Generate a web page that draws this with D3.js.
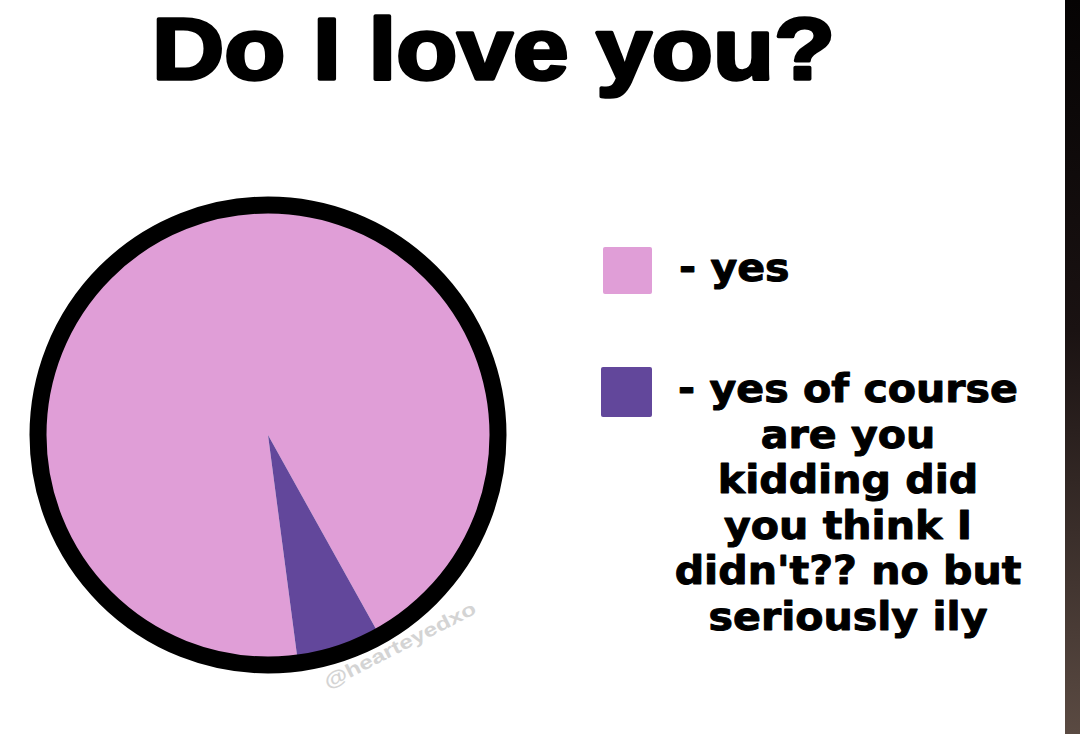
<!DOCTYPE html>
<html>
<head>
<meta charset="utf-8">
<script src="https://cdn.jsdelivr.net/npm/d3@7"></script>
<style>
  html, body { margin: 0; padding: 0; background: #ffffff; }
  svg { display: block; }
</style>
</head>
<body>
<script>
// ---- data ----
const title = "Do I love you?";
const categories = ["yes", "yes of course are you kidding did you think I didn't?? no but seriously ily"];
const values = [94, 6];
const colors = ["#e09ed7", "#62479b"];
const legendLines = [
  ["- yes"],
  ["- yes of course", "are you", "kidding did", "you think I", "didn't?? no but", "seriously ily"]
];
const watermark = "@hearteyedxo";

const W = 1080, H = 734;
const svg = d3.select("body").append("svg").attr("width", W).attr("height", H);

// right dark strip
const defs = svg.append("defs");
const grad = defs.append("linearGradient").attr("id", "strip").attr("x1", 0).attr("y1", 0).attr("x2", 0).attr("y2", 1);
grad.append("stop").attr("offset", "0%").attr("stop-color", "#050303");
grad.append("stop").attr("offset", "45%").attr("stop-color", "#1a1212");
grad.append("stop").attr("offset", "100%").attr("stop-color", "#5a4a42");
svg.append("rect").attr("x", 1065).attr("y", 0).attr("width", 15).attr("height", H).attr("fill", "url(#strip)");

const font = "'Liberation Sans', Arial, Helvetica, sans-serif";
const lfont = "'DejaVu Sans', 'Liberation Sans', Arial, sans-serif";

// title
svg.append("text")
  .attr("x", 152).attr("y", 79)
  .attr("font-family", font).attr("font-weight", 700)
  .attr("font-size", 88)
  .attr("fill", "#000").attr("stroke", "#000").attr("stroke-width", 3.5)
  .attr("stroke-linejoin", "round")
  .attr("textLength", 683).attr("lengthAdjust", "spacingAndGlyphs")
  .text(title);

// pie
const cx = 268, cy = 435, R = 230;
const deg = Math.PI / 180;
const start = 172.5 * deg;
const pie = d3.pie().sort(null).value(d => d).startAngle(start).endAngle(start + 2 * Math.PI);
const arc = d3.arc().innerRadius(0).outerRadius(R).cornerRadius(3);
const g = svg.append("g").attr("transform", `translate(${cx},${cy})`);
g.selectAll("path.slice").data(pie(values)).join("path")
  .attr("class", "slice")
  .attr("d", arc)
  .attr("fill", (d, i) => colors[i]);
g.append("circle").attr("r", R).attr("fill", "none").attr("stroke", "#000").attr("stroke-width", 17);

// watermark
svg.append("text")
  .attr("transform", "translate(328,689) rotate(-27)")
  .attr("font-family", font).attr("font-weight", 700).attr("font-size", 19)
  .attr("fill", "#d4d4d4")
  .attr("textLength", 168).attr("lengthAdjust", "spacingAndGlyphs")
  .text(watermark);

// legend
const sw = [
  { x: 603, y: 247, w: 49, h: 47 },
  { x: 601, y: 367, w: 51, h: 50 }
];
const lg = svg.append("g");
lg.selectAll("rect").data(categories).join("rect")
  .attr("x", (d, i) => sw[i].x).attr("y", (d, i) => sw[i].y)
  .attr("width", (d, i) => sw[i].w).attr("height", (d, i) => sw[i].h)
  .attr("rx", 2)
  .attr("fill", (d, i) => colors[i]);

const fs = 39;
function styleText(sel) {
  return sel.attr("font-family", lfont).attr("font-weight", 700).attr("font-size", fs)
    .attr("fill", "#000").attr("stroke", "#000").attr("stroke-width", 1).attr("stroke-linejoin", "round");
}
// second entry, centred block (measure to get horizontal scale)
const blockX = 848;
const t2g = lg.append("g");
const t2 = styleText(t2g.append("text")).attr("text-anchor", "middle");
t2.selectAll("tspan").data(legendLines[1]).join("tspan")
  .attr("x", 0).attr("y", (d, i) => 402 + i * 45.6)
  .text(d => d);
// natural width of widest line, scale to the reference block width
const probe = styleText(svg.append("text")).text(legendLines[1][0]);
const natW = probe.node().getComputedTextLength() + 1;
probe.remove();
const k = 341 / natW;
t2g.attr("transform", `translate(${blockX},0) scale(${k},1)`);

// first entry, left aligned, same horizontal scale
lg.append("g").attr("transform", `translate(679,0) scale(${k},1)`)
  .call(s => styleText(s.append("text")).attr("x", 0).attr("y", 281).text(legendLines[0][0]));
</script>
</body>
</html>
